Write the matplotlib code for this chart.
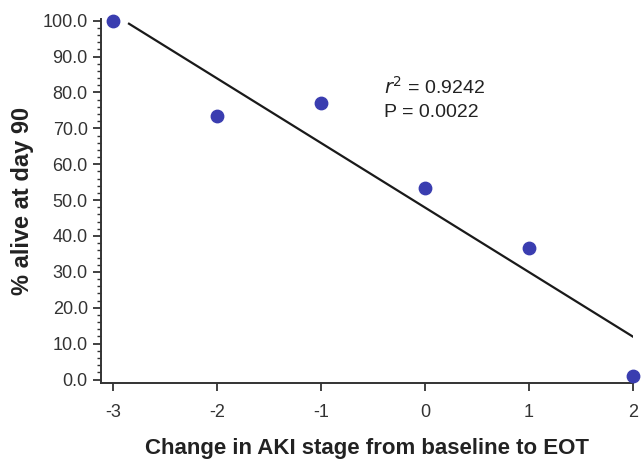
import numpy as np
import matplotlib
matplotlib.use('Agg')
import matplotlib.pyplot as plt
from matplotlib.ticker import MultipleLocator

plt.rcParams['font.family'] = ['Liberation Sans', 'DejaVu Sans']

# change in AKI stage vs. % alive at day 90
aki_change = [-3, -2, -1, 0, 1, 2]
pct_alive = [100.0, 73.5, 77.0, 53.3, 36.7, 1.0]

r_squared = 0.9242
p_value = 0.0022

fig = plt.figure(figsize=(6.43, 4.61), dpi=100)
ax = fig.add_axes([0.157, 0.169, 0.827, 0.79])

# linear fit line
slope, intercept = np.polyfit(aki_change, pct_alive, 1)
xfit = np.array([-2.85, 2.0])
ax.plot(xfit, slope * xfit + intercept, color='#1a1a1a', lw=1.6, zorder=2)

ax.scatter(aki_change, pct_alive, s=80, color='#3a3db0', zorder=3, clip_on=False)

ax.set_xlim(-3.12, 2.0)
ax.set_ylim(-1, 100.5)
ax.set_xticks(aki_change)
ax.set_xticklabels([str(v) for v in aki_change])
ax.yaxis.set_major_locator(MultipleLocator(10))
ax.yaxis.set_minor_locator(MultipleLocator(2))
ax.yaxis.set_major_formatter(plt.FuncFormatter(lambda v, p: f'{v:.1f}'))

for s in ['top', 'right']:
    ax.spines[s].set_visible(False)
for s in ['left', 'bottom']:
    ax.spines[s].set_linewidth(1.4)
    ax.spines[s].set_color('#333333')

ax.tick_params(axis='both', which='major', labelsize=13, labelcolor='#333333',
               color='#333333', width=1.3, length=6, direction='out')
ax.tick_params(axis='y', which='minor', length=3, width=1.0, color='#333333')
ax.tick_params(axis='x', pad=9)

ax.set_xlabel('Change in AKI stage from baseline to EOT', fontsize=16,
              fontweight='bold', color='#222222', labelpad=12)
ax.set_ylabel('% alive at day 90', fontsize=17, fontweight='bold',
              color='#222222', labelpad=6)

ax.text(-0.39, 81.5, f'$r^2$ = {r_squared:.4f}', fontsize=14, color='#222222',
        ha='left', va='center')
ax.text(-0.39, 74.5, f'P = {p_value:.4f}', fontsize=14, color='#222222',
        ha='left', va='center')

fig.savefig('out.png', dpi=100)
